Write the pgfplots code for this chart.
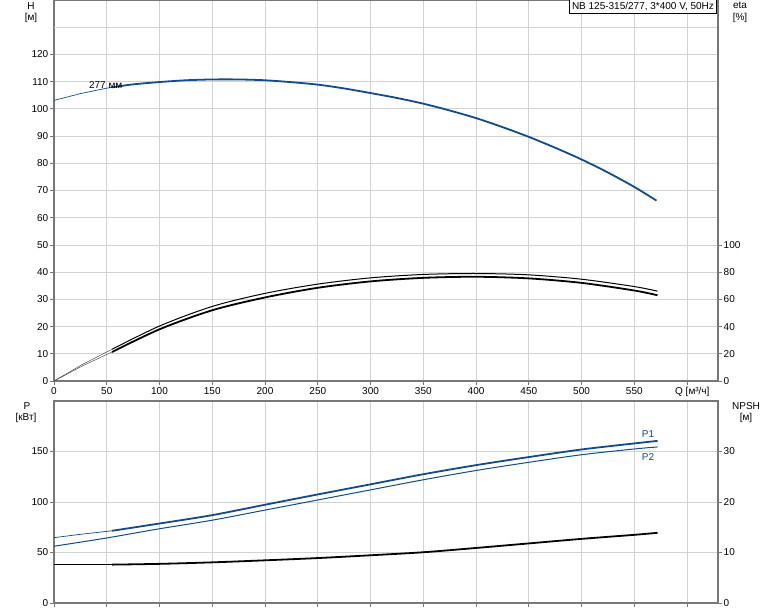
\documentclass[border=0pt]{standalone}
\usepackage{pgfplots}
\pgfplotsset{compat=1.18}
\usepackage{fontspec}
\setmainfont{Liberation Sans}
\definecolor{cblue}{RGB}{17,75,140}
\definecolor{gridc}{RGB}{211,211,211}
\definecolor{axc}{RGB}{120,120,120}
\newcommand{\fs}{\fontsize{10}{12}\selectfont}
\pgfplotsset{
  base/.style={scale only axis, width=664pt, xmin=0, xmax=629.3, anchor=south west,
    clip=false,
    /pgf/number format/assume math mode=true,
    tick label style={font=\fs},
    axis line style={axc, line width=1.3pt},
    tick style={axc, line width=0.8pt},
    tick align=outside, major tick length=4pt,
    yticklabel style={inner xsep=1.5pt},
    xticklabel style={inner ysep=2pt},
    grid style={gridc, line width=0.8pt},
  },
  sec/.style={base, axis x line=none, axis y line*=right, ytick pos=right},
}
\begin{document}
\begin{tikzpicture}
\path[use as bounding box] (0,0) rectangle (774pt,611pt);
% ---------------- top: H ----------------
\begin{axis}[base, at={(54pt,230pt)}, height=381pt, ymin=0, ymax=140,
  xtick={0,50,...,600}, xticklabels={0,50,100,150,200,250,300,350,400,450,500,550,{}},
  ytick={0,10,...,120}, extra y ticks={130}, extra y tick labels={},
  extra y tick style={major tick length=0pt},
  grid=major, xtick pos=lower, ytick pos=left]
\addplot[cblue, line width=0.7pt] coordinates {(0,103.1)(25,105.6)(50,107.6)(55,107.9)};
\addplot[cblue, line width=1.8pt, smooth] coordinates {(55,107.9)(75,109.0)(100,109.85)(125,110.5)(150,110.8)(175,110.8)(200,110.5)(225,109.8)(250,108.9)(275,107.5)(300,105.8)(325,104.0)(350,101.9)(375,99.4)(400,96.6)(425,93.3)(450,89.7)(475,85.7)(500,81.4)(525,76.6)(550,71.3)(571,66.3)};
\node[font=\fs, inner sep=0pt] at (axis cs:49,108.6) {277 мм};
\node[draw=black, fill=white, line width=0.5pt, anchor=north east, inner sep=2.3pt, font=\fs] at (rel axis cs:1,1) [xshift=-1.5pt, yshift=0.5pt] {NB 125-315/277, 3*400 V, 50Hz};
\node[font=\fs, anchor=east] at (rel axis cs:1,0) [xshift=-5pt, yshift=-11pt] {Q [м³/ч]};
\end{axis}
% ---------------- top: eta ----------------
\begin{axis}[sec, at={(54pt,230pt)}, height=381pt, ymin=0, ymax=280,
  ytick={0,20,...,100}]
\addplot[black!70, line width=0.5pt] coordinates {(0,0)(27,12.2)(55,23.3)};
\addplot[black!70, line width=0.5pt] coordinates {(0,0)(27,11.1)(55,21.3)};
\addplot[black, line width=1.0pt, smooth] coordinates {(55,23.3)(100,40.4)(150,54.8)(200,64.4)(250,71.2)(300,75.8)(350,78.3)(400,79.0)(450,78.0)(500,74.8)(550,69.4)(572,66)};
\addplot[black, line width=1.8pt, smooth] coordinates {(55,21.3)(100,38)(150,52)(200,61.4)(250,68.5)(300,73.2)(350,75.8)(400,76.6)(450,75.4)(500,72.1)(550,66.5)(572,63)};
\end{axis}
% ---------------- bottom: P ----------------
\begin{axis}[base, at={(54pt,8pt)}, height=202pt, ymin=0, ymax=200,
  xtick={0,50,...,600}, xticklabels={},
  ytick={0,50,100,150}, grid=major, xtick pos=lower, ytick pos=left]
\addplot[cblue, line width=0.7pt] coordinates {(0,64.7)(25,68)(55,71.5)};
\addplot[cblue, line width=1.8pt, smooth] coordinates {(55,71.5)(100,78.7)(150,87)(200,97.3)(250,107.5)(300,117.5)(350,127.5)(400,136.5)(450,144.5)(500,152)(550,158)(572,160.5)};
\addplot[cblue, line width=1.0pt, smooth] coordinates {(0,56.2)(50,64.4)(100,73.5)(150,82)(200,92)(250,102)(300,112)(350,122)(400,131.2)(450,139.3)(500,146.8)(550,152.5)(572,154.5)};
\node[font=\fs, text=cblue] at (axis cs:563,167.6) {P1};
\node[font=\fs, text=cblue] at (axis cs:563,145) {P2};
\end{axis}
% ---------------- bottom: NPSH ----------------
\begin{axis}[sec, at={(54pt,8pt)}, height=202pt, ymin=0, ymax=40,
  ytick={0,10,20,30}]
\addplot[black, line width=0.8pt] coordinates {(0,7.65)(55,7.65)};
\addplot[black, line width=1.8pt, smooth] coordinates {(55,7.6)(100,7.75)(150,8.05)(200,8.45)(250,8.9)(300,9.45)(350,10.05)(400,10.9)(450,11.8)(500,12.7)(550,13.5)(572,13.9)};
\end{axis}
% ---------------- axis titles ----------------
\node[font=\fs] at (31pt,605pt) {H};
\node[font=\fs] at (31pt,593pt) {[м]};
\node[font=\fs] at (740pt,606pt) {eta};
\node[font=\fs] at (740pt,593pt) {[\%]};
\node[font=\fs] at (27pt,205pt) {P};
\node[font=\fs] at (26pt,193pt) {[кВт]};
\node[font=\fs] at (746pt,205pt) {NPSH};
\node[font=\fs] at (746pt,193pt) {[м]};
\end{tikzpicture}
\end{document}
